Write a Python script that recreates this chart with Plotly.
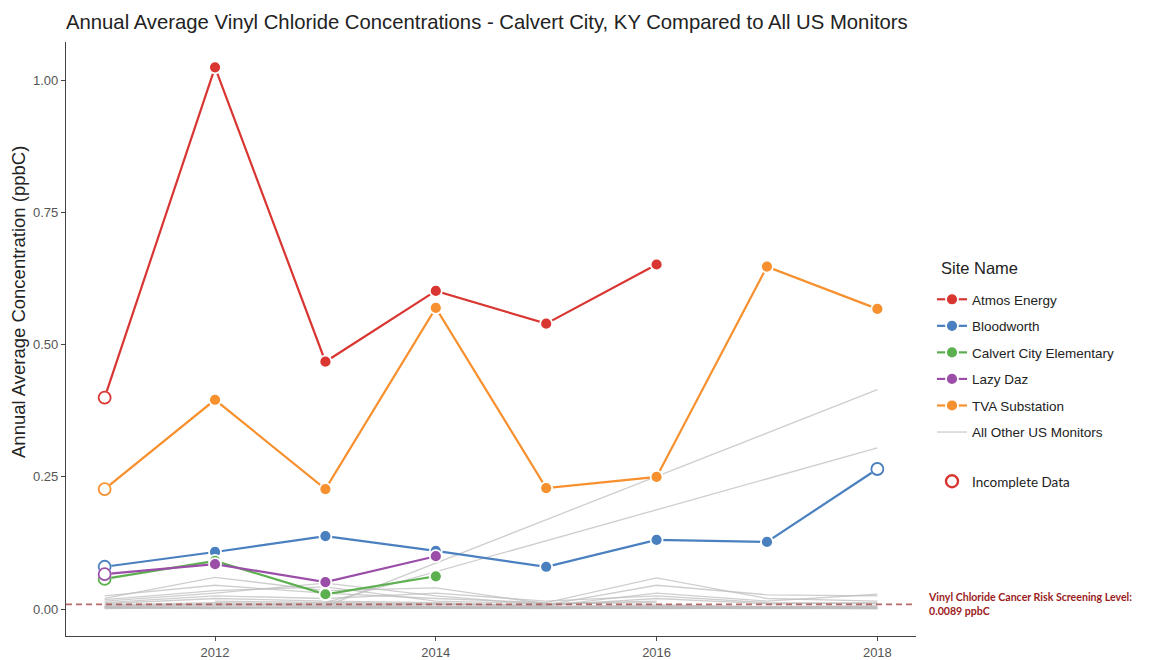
import plotly.graph_objects as go

# ── Data ──────────────────────────────────────────────────────────────────────
YEARS = [2011, 2012, 2013, 2014, 2015, 2016, 2017, 2018]

ATMOS = [0.400, 1.025, 0.468, 0.602, 0.540, 0.652, None, None]
BLOODWORTH = [0.080, 0.108, 0.138, 0.110, 0.080, 0.131, 0.127, 0.265]
CALVERT = [0.057, 0.091, 0.028, 0.062, None, None, None, None]
LAZY_DAZ = [0.066, 0.085, 0.051, 0.100, None, None, None, None]
TVA = [0.227, 0.396, 0.227, 0.570, 0.229, 0.250, 0.648, 0.568]

# incomplete-data flags per site (True = hollow point)
ATMOS_INC = [True, False, False, False, False, False, False, False]
BLOODWORTH_INC = [True, False, False, False, False, False, False, True]
CALVERT_INC = [True, False, False, False, False, False, False, False]
LAZY_DAZ_INC = [True, False, False, False, False, False, False, False]
TVA_INC = [True, False, False, False, False, False, False, False]

OTHER_MONITORS = [
    [0.020, 0.060, 0.035, 0.040, 0.010, 0.015, None, None],
    [0.025, 0.045, 0.030, 0.020, 0.012, 0.059, 0.020, 0.015],
    [0.015, 0.030, 0.049, 0.025, 0.008, 0.045, 0.027, 0.025],
    [0.010, 0.020, 0.015, 0.012, 0.006, 0.030, 0.015, 0.028],
    [0.005, 0.008, 0.006, 0.005, 0.004, 0.006, 0.005, 0.006],
    [0.003, 0.004, 0.003, 0.003, 0.002, 0.003, 0.002, 0.003],
    [0.008, 0.012, 0.010, 0.009, 0.007, 0.020, 0.010, 0.012],
    [0.012, 0.025, 0.020, 0.030, 0.015, 0.025, 0.012, 0.010],
    [None, 0.015, 0.012, 0.010, 0.005, 0.008, 0.004, 0.005],
    [0.018, 0.035, 0.042, 0.015, 0.010, 0.012, None, None],
    [0.002, 0.002, 0.001, 0.002, 0.001, 0.001, 0.001, 0.001],
    [0.006, 0.010, 0.008, 0.006, 0.003, 0.004, 0.003, 0.004],
    [0.004, 0.006, 0.005, 0.004, 0.002, 0.005, 0.004, 0.002],
    [0.001, 0.003, 0.002, 0.001, 0.001, 0.002, 0.001, 0.002],
    [0.003, 0.001, 0.004, 0.002, 0.003, 0.001, 0.002, 0.001],
    [None, None, 0.005, None, None, None, None, 0.415],
    [None, None, 0.012, None, None, None, None, 0.305],
]

SCREENING_LEVEL = 0.0089
Y_TICKS = [0.0, 0.25, 0.5, 0.75, 1.0]
X_TICKS = [2012, 2014, 2016, 2018]

SITES = [
    ("Atmos Energy", ATMOS, ATMOS_INC, "#D93632"),
    ("Bloodworth", BLOODWORTH, BLOODWORTH_INC, "#4A80BF"),
    ("Calvert City Elementary", CALVERT, CALVERT_INC, "#5DB04F"),
    ("Lazy Daz", LAZY_DAZ, LAZY_DAZ_INC, "#9A4EA8"),
    ("TVA Substation", TVA, TVA_INC, "#F7902E"),
]

_GRAY = "rgba(190,190,190,0.75)"
_AXIS = "#444444"
_TEXT = "#222222"

# page has an 8px body margin; plot panel spans page x 66..916, y 42..636
W, H = 1143, 652
L, T, R, B = 58, 34, 235, 24
PW, PH = W - L - R, H - T - B


def px(xpage):
    return (xpage - 8 - L) / PW


def py(ypage):
    return 1 - (ypage - 8 - T) / PH


fig = go.Figure()

# all other monitors, underneath
for i, vals in enumerate(OTHER_MONITORS):
    fig.add_trace(go.Scatter(
        x=YEARS, y=vals, mode="lines", connectgaps=True,
        line=dict(color=_GRAY, width=1.3),
        name="All Other US Monitors", legendgroup="other", legendrank=1100,
        showlegend=(i == 0), hoverinfo="skip",
    ))

# Calvert City sites: line + filled points, then hollow points on top
for name, vals, inc, color in SITES:
    fig.add_trace(go.Scatter(
        x=YEARS, y=vals, mode="lines+markers", name=name, legendgroup=name,
        line=dict(color=color, width=2.2),
        marker=dict(size=12, color=color, line=dict(color="white", width=1.8)),
    ))
    hollow = [v if f else None for v, f in zip(vals, inc)]
    fig.add_trace(go.Scatter(
        x=YEARS, y=hollow, mode="markers", legendgroup=name, showlegend=False,
        marker=dict(size=12, color="white", line=dict(color=color, width=1.8)),
    ))

# legend-only entry for hollow points
fig.add_trace(go.Scatter(
    x=[None], y=[None], mode="markers", name="Incomplete Data",
    marker=dict(size=12, color="white", line=dict(color="#D93632", width=2.4)),
    legend="legend2",
))

fig.add_shape(
    type="line", xref="paper", x0=0, x1=1, yref="y",
    y0=SCREENING_LEVEL, y1=SCREENING_LEVEL, layer="above",
    line=dict(color="rgba(170,80,80,0.85)", width=1.6, dash="6px,4px"),
)
fig.add_annotation(
    xref="paper", x=px(926), yref="y", y=SCREENING_LEVEL, xanchor="left",
    yanchor="middle", align="left", showarrow=False,
    text=f"<b>Vinyl Chloride Cancer Risk Screening Level:<br>{SCREENING_LEVEL} ppbC</b>",
    font=dict(family="Lato, sans-serif", size=10.6, color="#9B1C1C"),
)
fig.add_annotation(
    xref="paper", x=px(18), yref="paper", y=py(302), xanchor="center",
    yanchor="middle", textangle=-90, showarrow=False,
    text="Annual Average Concentration (ppbC)",
    font=dict(size=18.5, color=_TEXT),
)
fig.add_annotation(
    xref="paper", x=px(939), yref="paper", y=py(268), xanchor="left",
    yanchor="middle", showarrow=False, text="Site Name",
    font=dict(size=16.5, color=_TEXT),
)

fig.update_layout(
    width=W, height=H,
    paper_bgcolor="white", plot_bgcolor="white",
    font=dict(family="Arial, Liberation Sans, sans-serif", color=_TEXT, size=12),
    title=dict(
        text="Annual Average Vinyl Chloride Concentrations - Calvert City, KY Compared to All US Monitors",
        x=L / W, xanchor="left", y=1 - 14 / H, yanchor="middle",
        font=dict(size=20.3, color=_TEXT),
    ),
    margin=dict(l=L, r=R, t=T, b=B),
    xaxis=dict(
        range=[2010.65, 2018.35], tickvals=X_TICKS, showgrid=False, zeroline=False,
        showline=True, linecolor=_AXIS, linewidth=1.2, ticks="outside",
        ticklen=4, tickcolor=_AXIS, tickfont=dict(size=13, color="#555555"),
        automargin=False,
    ),
    yaxis=dict(
        range=[-0.051, 1.073], tickvals=Y_TICKS, tickformat=".2f", showgrid=False,
        zeroline=False, showline=True, linecolor=_AXIS, linewidth=1.2,
        ticks="outside", ticklen=4, tickcolor=_AXIS,
        tickfont=dict(size=13, color="#555555"), automargin=False,
    ),
    legend=dict(
        x=px(932), xanchor="left", y=py(284), yanchor="top",
        font=dict(size=13.5, color=_TEXT), traceorder="grouped",
        tracegroupgap=6, itemwidth=30,
    ),
    legend2=dict(
        x=px(932), xanchor="left", y=py(466), yanchor="top",
        font=dict(family="Lato, sans-serif", size=13.5, color=_TEXT), itemwidth=30,
    ),
    showlegend=True,
)

fig.write_html("out.html")
